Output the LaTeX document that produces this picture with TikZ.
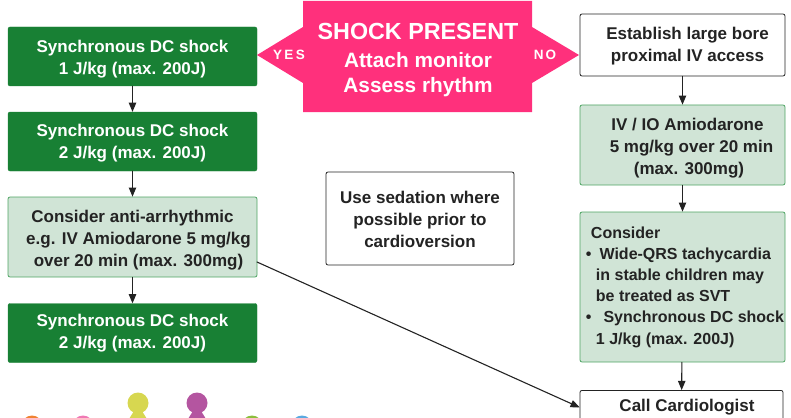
\documentclass[tikz,border=0pt]{standalone}
\usepackage{fontspec}
\setmainfont{Liberation Sans}
\usetikzlibrary{arrows}
\definecolor{shockgreen}{RGB}{24,128,52}
\definecolor{palegreen}{RGB}{208,228,214}
\definecolor{edgegreen}{RGB}{80,165,100}
\definecolor{shockpink}{RGB}{255,48,124}
\definecolor{darktext}{RGB}{35,35,35}
\definecolor{headyellow}{RGB}{215,215,80}
\definecolor{headpurple}{RGB}{180,85,160}
\definecolor{headorange}{RGB}{240,130,50}
\definecolor{headpink}{RGB}{240,120,180}
\definecolor{headgreen}{RGB}{140,190,60}
\definecolor{headblue}{RGB}{90,170,225}
\newcommand{\dropline}{\rule{0pt}{18pt}}
\tikzset{
  shockbox/.style={draw=shockgreen,fill=shockgreen,rounded corners=2pt,minimum width=249pt,minimum height=59pt,align=center,text=white,font=\bfseries\fontsize{17}{22}\selectfont},
  drugbox/.style={draw=edgegreen,line width=0.8pt,fill=palegreen,rounded corners=2pt,align=center,text=darktext,font=\bfseries\fontsize{17}{22}\selectfont},
  plainbox/.style={draw=darktext,line width=0.8pt,fill=white,rounded corners=2pt,align=center,text=darktext,font=\bfseries\fontsize{17}{22}\selectfont},
  flow/.style={->,color=darktext,line width=1.1pt},
  pinktext/.style={text=white,font=\bfseries\fontsize{20.8}{24.5}\selectfont,align=center}
}
\begin{document}
\begin{tikzpicture}[line cap=round,line join=round,>=triangle 45,x=1pt,y=-1pt]
      \useasboundingbox (0,0) rectangle (791,417);
      \clip (0,0) rectangle (791,417);
      % people along the bottom
      \foreach \x/\y/\c in {32/426/headorange,83/426/headpink,138/403/headyellow,197/403/headpurple,252/426/headgreen,302/426/headblue}
      {
      \fill[color=\c] (\x,\y) circle (10.5pt);
      \fill[color=\c] (\x-9,\y+16) -- (\x-4,\y+8) -- (\x+4,\y+8) -- (\x+9,\y+16) -- cycle;
      }
      % left column
      \node[shockbox] (shockone) at (132.5,56.5) {\dropline Synchronous DC shock\\1 J/kg (max. 200J)};
      \node[shockbox] (shocktwo) at (132.5,141.5) {\rule{0pt}{16pt}Synchronous DC shock\\2 J/kg (max. 200J)};
      \node[drugbox,minimum width=249pt,minimum height=80pt] (antiarr) at (132.5,237) {\dropline Consider anti-arrhythmic\\\hspace*{12pt}e.g. IV Amiodarone 5 mg/kg\\\hspace*{12pt}over 20 min (max. 300mg)};
      \node[shockbox] (shockthree) at (132.5,333) {Synchronous DC shock\\2 J/kg (max. 200J)};
      % centre
      \fill[color=shockpink] (303,1) -- (532,1) -- (532,27) -- (579,55) -- (532,83) -- (532,112) -- (303,112) -- (303,83) -- (257,55) -- (303,27) -- cycle;
      \node[pinktext,font=\bfseries\fontsize{23.3}{24}\selectfont] (shockpresent) at (418,31) {SHOCK PRESENT};
      \node[pinktext] (assess) at (418,74.5) {Attach monitor\\Assess rhythm};
      \node[text=white,font=\bfseries\fontsize{13.5}{16}\selectfont] (yes) at (289,55) {Y\,E\,S};
      \node[text=white,font=\bfseries\fontsize{13.5}{16}\selectfont] (no) at (545,55) {N\,O};
      \node[plainbox,minimum width=188pt,minimum height=93pt] (sedation) at (420,218.5) {\rule{0pt}{15pt}Use sedation where\\possible prior to\\cardioversion};
      % right column
      \node[plainbox,minimum width=205pt,minimum height=62pt] (access) at (682.5,45) {\rule{0pt}{15pt}\hspace*{10pt}Establish large bore\\\hspace*{10pt}proximal IV access};
      \node[drugbox,minimum width=205pt,minimum height=80pt] (amio) at (682.5,145) {\dropline\hspace*{10pt}IV / IO Amiodarone\\\hspace*{18pt}5 mg/kg over 20 min\\\hspace*{13pt}(max. 300mg)};
      \node[drugbox,minimum width=205pt,minimum height=150pt,align=left,inner sep=0pt,font=\bfseries\fontsize{16}{21.2}\selectfont] (consider) at (682.5,287) {\hspace*{10pt}Consider\\\hspace*{5pt}\textbullet\hspace{8pt}Wide-QRS tachycardia\\\hspace*{15pt}in stable children may\\\hspace*{15pt}be treated as SVT\\\hspace*{5pt}\textbullet\hspace{12pt}Synchronous DC shock\\\hspace*{15pt}1 J/kg (max. 200J)};
      \node[plainbox,minimum width=203pt,minimum height=34pt,anchor=north] (cardio) at (681.5,390) {};
      \node[text=darktext,font=\bfseries\fontsize{17}{22}\selectfont] (cardiotext) at (687,407) {Call Cardiologist};
      \coordinate (antiout) at (257,262);
      % connectors
      \draw[flow] (shockone) -- (shocktwo);
      \draw[flow] (shocktwo) -- (antiarr);
      \draw[flow] (antiarr) -- (shockthree);
      \draw[flow] (access) -- (amio);
      \draw[flow] (amio) -- (consider);
      \draw[flow] (consider) -- (cardio);
      \draw[flow] (antiout) -- (cardio.west);
    \end{tikzpicture}
\end{document}
